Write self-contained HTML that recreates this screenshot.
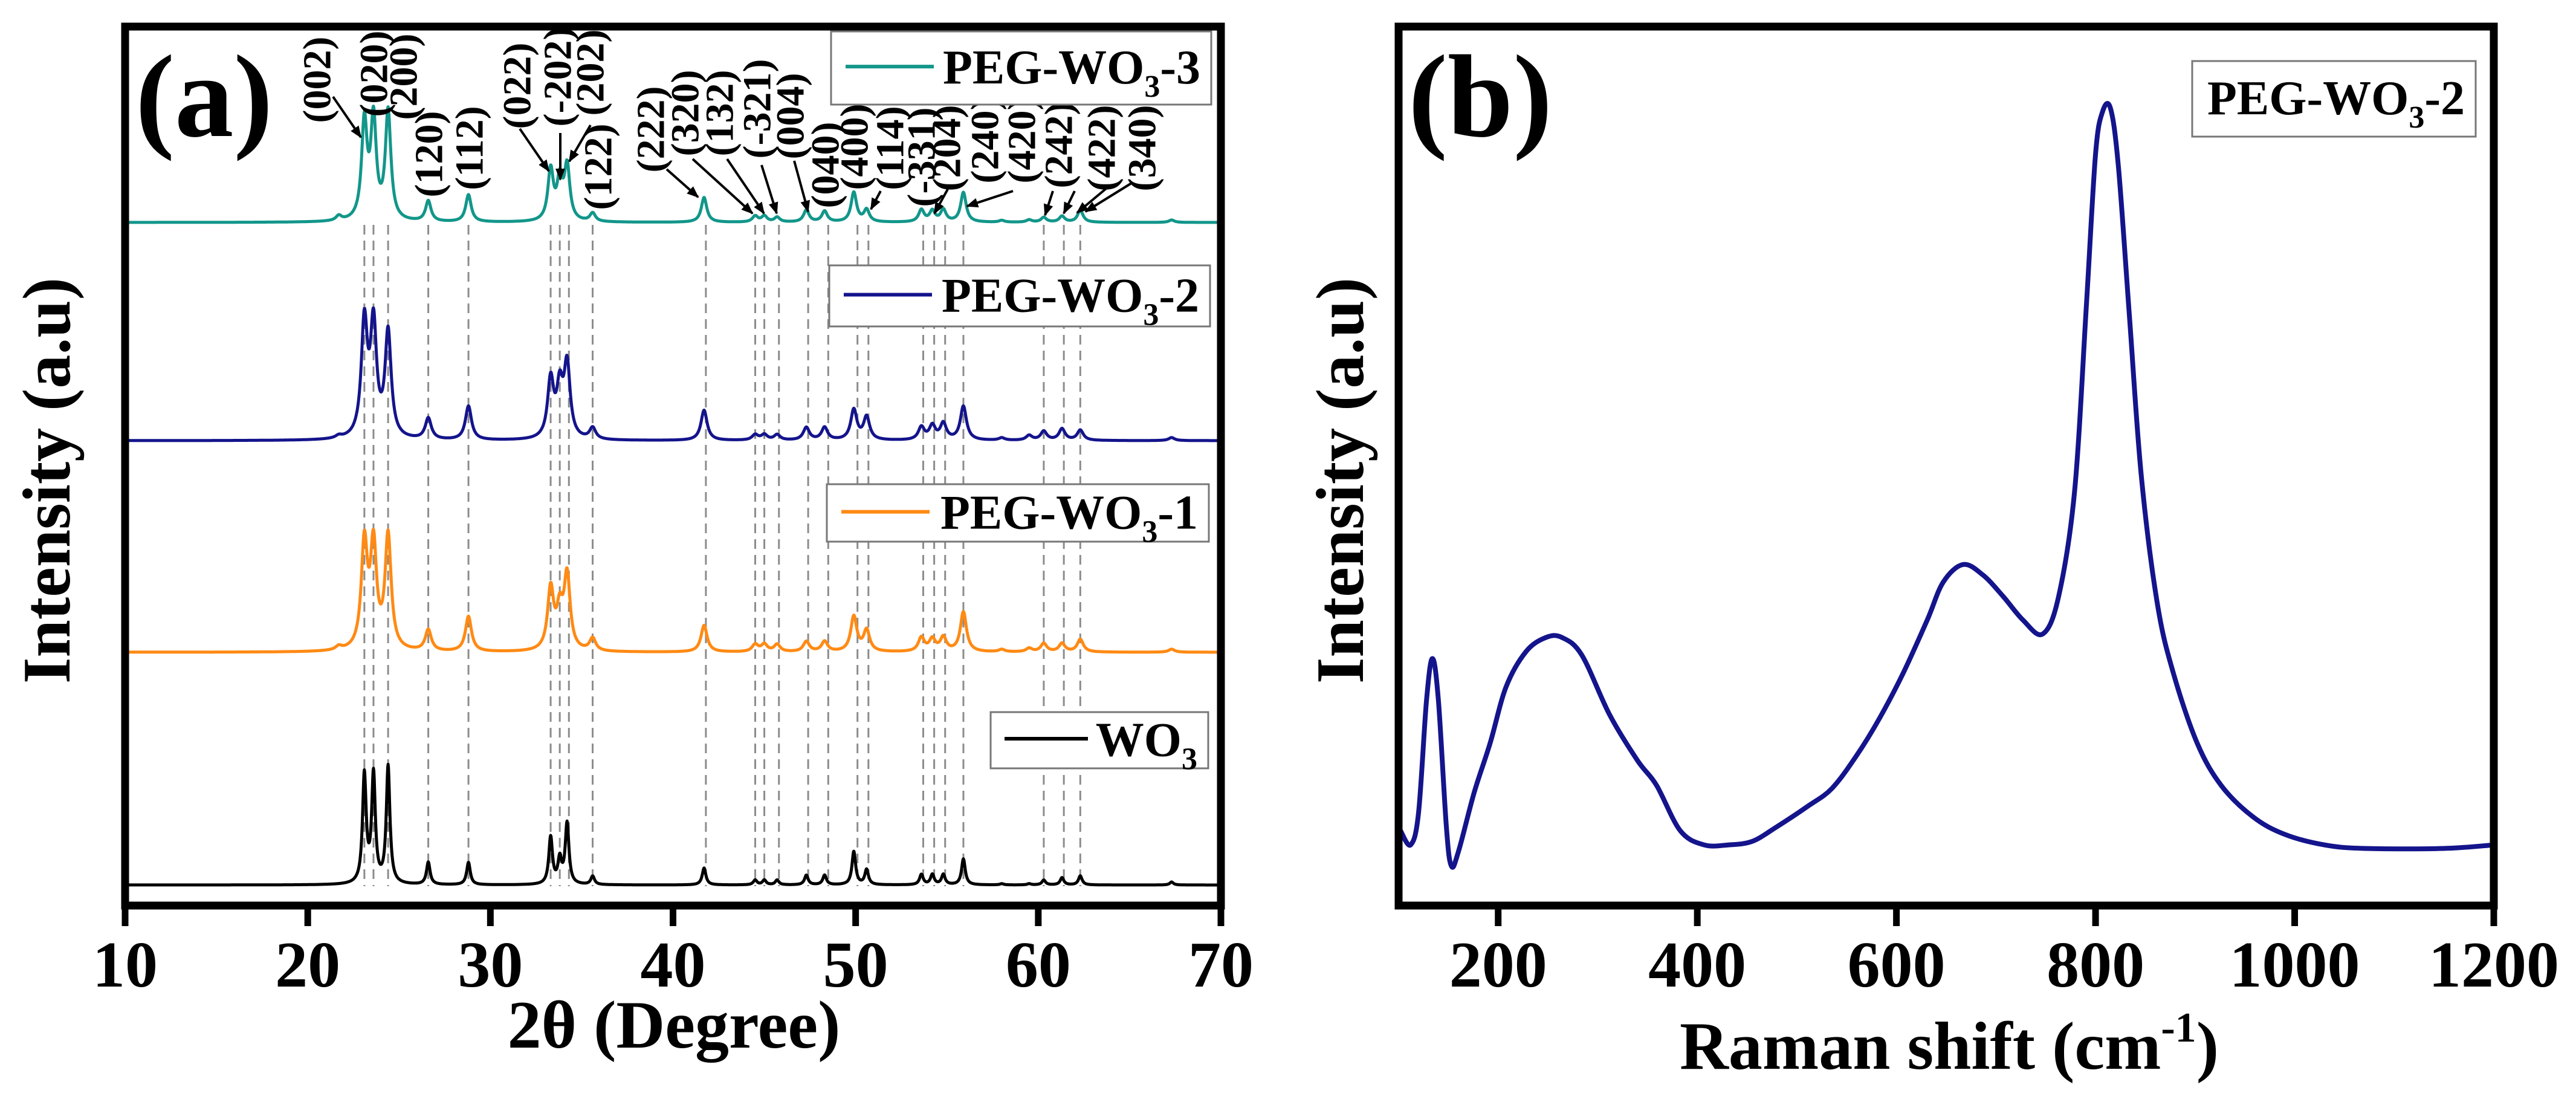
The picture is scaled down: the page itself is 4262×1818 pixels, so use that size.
<!DOCTYPE html>
<html><head><meta charset="utf-8"><style>
html,body{margin:0;padding:0;background:#fff;}
svg{display:block;font-family:"Liberation Serif",serif;font-weight:bold;}
</style></head><body>
<svg id="fig" width="4262" height="1818" viewBox="0 0 4262 1818" xmlns="http://www.w3.org/2000/svg">
<defs><marker id="ah" viewBox="0 0 10 10" refX="9" refY="5" markerWidth="5" markerHeight="5" orient="auto"><path d="M0,1 L10,5 L0,9 z" fill="#000"/></marker></defs>
<g id="pa"></g>
<g id="pb"></g>
</svg>
<script>
// ---------- XRD data (panel a) ----------
const xrdPeakPos   = [21.7,23.1,23.6,24.4,26.6,28.8,33.3,33.8,34.2,35.6,41.7,44.5,45.0,45.7,47.3,48.3,49.9,50.6,53.6,54.2,54.8,55.9,58.0,59.5,60.3,61.3,62.3,67.3];
const wo3Heights   = [0,179,179,194,37,37,78,40,101,14,28,8,8,8,16,16,55,25,17,17,17,43,2,2,8,12,15,5];
const peg1Heights  = [6,174,168,188,35,58,101,60,122,21,44,12,12,12,17,17,58,35,23,20,23,66,4,6,14,14,21,5];
const peg2Heights  = [4,189,183,174,35,56,96,79,120,19,50,9,9,9,21,21,50,38,21,23,27,56,4,8,15,19,17,5];
const peg3Heights  = [8,161,165,180,34,45,84,64,89,14,41,10,10,8,20,18,49,20,20,18,20,49,3,4,8,10,20,4];
const xrdBaselines = [1464,1079,729,368];
const xrdWidths    = [0.12,0.2,0.2,0.18];
const xrdNames     = ['wo3','peg-wo3-1','peg-wo3-2','peg-wo3-3'];
const xrdColors    = ['#000000','#ff8a14','#14148c','#12968a'];
const refLines     = [23.1,23.6,24.4,26.6,28.8,33.3,33.8,34.3,35.6,41.8,44.5,45.0,45.8,47.4,48.5,50.1,50.7,53.7,54.3,54.9,55.9,60.3,61.4,62.3];
const xTicksA      = [10,20,30,40,50,60,70];
const hklLabels    = ['(002)','(020)','(200)','(120)','(112)','(022)','(-202)','(202)','(122)','(222)','(320)','(132)','(-321)','(004)','(040)','(400)','(114)','(-331)','(204)','(240)','(420)','(242)','(422)','(340)'];
const hklCx        = [525,619,668,710,777,856,923,977,990,1077,1134,1191,1253,1308,1366,1414,1473,1525,1567,1630,1691,1752,1823,1890];
const hklCy        = [132,122,127,255,245,142,127,120,276,214,187,187,180,192,273,243,245,260,245,232,232,240,245,245];
// ---------- Raman data (panel b) ----------
const ramanShift = [102,112,120,128,134,140,148,153,160,176,192,208,228,248,264,284,312,340,359,383,407,431,455,479,511,535,559,583,607,631,647,667,687,707,727,747,763,779,791,800,807,815,823,834,846,862,878,902,926,958,990,1030,1070,1150,1200];
const ramanInt   = [8.5,6.9,10.5,23.3,28.1,23.3,8.9,4.5,6.1,12.9,18.5,24.9,28.9,30.5,30.5,28.5,21.7,16.5,13.7,8.5,6.9,6.9,7.3,8.9,11.3,13.3,16.9,21.3,26.5,32.5,36.8,38.8,37.6,35.2,32.5,30.9,35.2,47.2,68.7,85.5,90.3,90.7,84.0,67.1,48.8,34.4,26.5,18.5,13.7,10.1,8.1,6.9,6.5,6.5,6.9];
const xTicksB    = [200,400,600,800,1000,1200];

const NS='http://www.w3.org/2000/svg';
function mk(parent,tag,attrs){const e=document.createElementNS(NS,tag);for(const k in attrs)e.setAttribute(k,attrs[k]);parent.appendChild(e);return e;}
const pa=document.getElementById('pa'), pb=document.getElementById('pb');
const A={x0:207,x1:2020,y0:44,y1:1498,min:10,max:70};
const xa=v=>A.x0+(v-A.min)/(A.max-A.min)*(A.x1-A.x0);
const B={x0:2314,x1:4126,y0:44,y1:1498,min:100,max:1200};
const xb=v=>B.x0+(v-B.min)/(B.max-B.min)*(B.x1-B.x0);
const yb=v=>B.y1-v/100*(B.y1-B.y0);

refLines.forEach(p=>{
  const l=mk(pa,'line',{x1:xa(p),x2:xa(p),y1:372,y2:1466,stroke:'#8c8c8c','stroke-width':3,'stroke-dasharray':'16,10'});
  
  
});
xrdBaselines.forEach((base,s)=>{
  const hs=[wo3Heights,peg1Heights,peg2Heights,peg3Heights][s];
  const w=xrdWidths[s];
  let d='';
  for(let x=10;x<=70.0001;x+=0.02){
    let y=0;
    for(let i=0;i<xrdPeakPos.length;i++){const t=(x-xrdPeakPos[i])/w;y+=hs[i]/(1+t*t);}
    d+=(d?'L':'M')+xa(x).toFixed(1)+','+(base-y).toFixed(1);
  }
  const p=mk(pa,'path',{d:d,fill:'none',stroke:xrdColors[s],'stroke-width':5,'stroke-linejoin':'round'});
  
  
});
hklLabels.forEach((t,i)=>{
  const e=mk(pa,'text',{x:0,y:0,transform:`translate(${hklCx[i]},${hklCy[i]}) rotate(-90)`,'text-anchor':'middle','dominant-baseline':'central','font-size':66});
  e.textContent=t;
  
  
});
const arrows=[[551,160,597,227],[860,213,908,283],[927,220,927,297],[977,207,942,267],[1103,280,1155,326],[1146,263,1245,353],[1203,263,1264,353],[1260,273,1285,353],[1314,266,1337,350],[1457,316,1441,346],[1568,313,1546,353],[1676,316,1600,341],[1742,316,1729,356],[1778,316,1760,353],[1830,312,1782,352],[1872,303,1796,350]];
arrows.forEach(a=>{
  const l=mk(pa,'line',{x1:a[0],y1:a[1],x2:a[2],y2:a[3],stroke:'#000','stroke-width':4,'marker-end':'url(#ah)'});
  
  
});
function legend(parent,x,y,w,h,color,label,name){
  const g=mk(parent,'g',{});
  
  
  mk(g,'rect',{x:x,y:y,width:w,height:h,fill:'#fff',stroke:'#777','stroke-width':3});
  if(color){mk(g,'line',{x1:x+24,x2:x+170,y1:y+h*0.48,y2:y+h*0.48,stroke:color,'stroke-width':6});}
  const t=mk(g,'text',{x:x+w-18,y:y+h*0.48+28,'text-anchor':'end','font-size':80});
  t.innerHTML=label;
  return g;
}
const sub='<tspan dy="22" font-size="52">3</tspan><tspan dy="-22">';
legend(pa,1375,52,629,121,xrdColors[3],'PEG-WO'+sub+'-3</tspan>','legend-peg-wo3-3');
legend(pa,1372,439,630,101,xrdColors[2],'PEG-WO'+sub+'-2</tspan>','legend-peg-wo3-2');
legend(pa,1368,801,632,95,xrdColors[1],'PEG-WO'+sub+'-1</tspan>','legend-peg-wo3-1');
legend(pa,1639,1178,360,93,null,'WO'+sub+'</tspan>','legend-wo3');
mk(pa,'line',{x1:1662,x2:1800,y1:1222,y2:1222,stroke:'#000','stroke-width':6});
function frame(parent,P,ticks,xf,name){
  const r=mk(parent,'rect',{x:P.x0,y:P.y0,width:P.x1-P.x0,height:P.y1-P.y0,fill:'none',stroke:'#000','stroke-width':13});
  
  
  ticks.forEach(v=>{
    mk(parent,'line',{x1:xf(v),x2:xf(v),y1:P.y1,y2:P.y1+34,stroke:'#000','stroke-width':11});
    const t=mk(parent,'text',{x:xf(v),y:1632,'text-anchor':'middle','font-size':108});
    t.textContent=v;
    
    
  });
}
frame(pa,A,xTicksA,xa,'xrd');
let t=mk(pa,'text',{x:1115,y:1733,'text-anchor':'middle','font-size':112});t.textContent='2θ (Degree)';

t=mk(pa,'text',{x:0,y:0,transform:'translate(115,795) rotate(-90)','text-anchor':'middle','font-size':112});t.textContent='Intensity (a.u)';

t=mk(pa,'text',{x:224,y:225,'font-size':195});t.textContent='(a)';


// panel b: smooth curve through data points (Catmull-Rom)
const pts=ramanShift.map((v,i)=>[xb(v),yb(ramanInt[i])]);
let d='M'+pts[0][0].toFixed(1)+','+pts[0][1].toFixed(1);
for(let i=0;i<pts.length-1;i++){
  const p0=pts[Math.max(0,i-1)],p1=pts[i],p2=pts[i+1],p3=pts[Math.min(pts.length-1,i+2)];
  const c1=[p1[0]+(p2[0]-p0[0])/6,p1[1]+(p2[1]-p0[1])/6];
  const c2=[p2[0]-(p3[0]-p1[0])/6,p2[1]-(p3[1]-p1[1])/6];
  d+='C'+c1[0].toFixed(1)+','+c1[1].toFixed(1)+' '+c2[0].toFixed(1)+','+c2[1].toFixed(1)+' '+p2[0].toFixed(1)+','+p2[1].toFixed(1);
}
const rp=mk(pb,'path',{d:d,fill:'none',stroke:'#14148c','stroke-width':8,'stroke-linejoin':'round'});


frame(pb,B,xTicksB,xb,'raman');
legend(pb,3627,101,469,125,null,'PEG-WO'+sub+'-2</tspan>','legend-peg-wo3-2-raman');
t=mk(pb,'text',{x:3225,y:1768,'text-anchor':'middle','font-size':112});t.innerHTML='Raman shift (cm<tspan dy="-45" font-size="70">-1</tspan><tspan dy="45">)</tspan>';

t=mk(pb,'text',{x:0,y:0,transform:'translate(2255,795) rotate(-90)','text-anchor':'middle','font-size':112});t.textContent='Intensity (a.u)';

t=mk(pb,'text',{x:2330,y:225,'font-size':195});t.textContent='(b)';

</script>
</body></html>
